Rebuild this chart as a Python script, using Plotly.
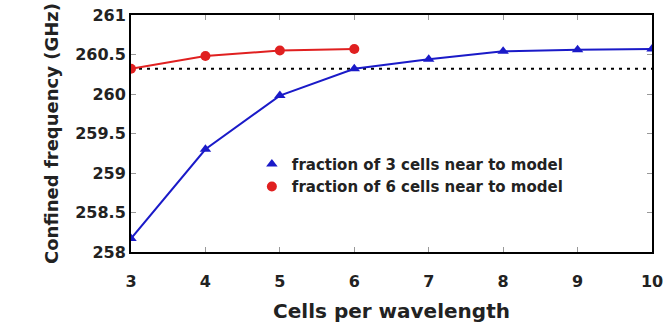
import plotly.graph_objects as go

cells = [3, 4, 5, 6, 7, 8, 9, 10]
freq_3cells = [258.17, 259.3, 259.98, 260.32, 260.44, 260.54, 260.56, 260.57]
cells_6 = [3, 4, 5, 6]
freq_6cells = [260.32, 260.48, 260.55, 260.57]
reference_freq = 260.32
y_ticks = [258, 258.5, 259, 259.5, 260, 260.5, 261]

BLUE = "#1a1ac8"
RED = "#e02020"
FONT = "DejaVu Sans"
TXT = "#222"

L, R, T, B = 131, 15, 15, 72
fig = go.Figure()

# dotted reference level
fig.add_trace(go.Scatter(
    x=[cells[0], cells[-1]], y=[reference_freq, reference_freq], mode="lines",
    line=dict(color="black", width=2, dash="3px,5px"), showlegend=False, hoverinfo="skip"))

fig.add_trace(go.Scatter(
    x=cells, y=freq_3cells, mode="lines+markers", showlegend=False,
    line=dict(color=BLUE, width=2),
    marker=dict(symbol="triangle-up", size=10, color=BLUE)))

fig.add_trace(go.Scatter(
    x=cells_6, y=freq_6cells, mode="lines+markers", showlegend=False,
    line=dict(color=RED, width=2),
    marker=dict(symbol="circle", size=10, color=RED)))

# legend entries show the marker only
fig.add_trace(go.Scatter(
    x=[None], y=[None], mode="markers", name="<b>fraction of 3 cells near to model</b>",
    marker=dict(symbol="triangle-up", size=10, color=BLUE)))
fig.add_trace(go.Scatter(
    x=[None], y=[None], mode="markers", name="<b>fraction of 6 cells near to model</b>",
    marker=dict(symbol="circle", size=10, color=RED)))

axis_common = dict(
    showline=True, linecolor="black", linewidth=2, mirror="ticks",
    ticks="inside", ticklen=5, tickcolor="#999", showgrid=False, zeroline=False,
    automargin=False,
    tickfont=dict(family=FONT, size=16, color=TXT),
)

fig.update_xaxes(range=[3, 10], tickvals=cells, ticktext=[f"<b>{c}</b>" for c in cells],
                 ticklabelstandoff=14,
                 title=dict(text="<b>Cells per wavelength</b>", standoff=14,
                            font=dict(family=FONT, size=20, color=TXT)),
                 **axis_common)
fig.update_yaxes(range=[258, 261], tickvals=y_ticks,
                 ticktext=[f"<b>{v:g}</b>" for v in y_ticks],
                 title=dict(text="<b>Confined frequency (GHz)</b>", standoff=12,
                            font=dict(family=FONT, size=18, color=TXT)),
                 **axis_common)

fig.update_layout(
    width=667, height=324,
    margin=dict(l=L, r=R, t=T, b=B),
    paper_bgcolor="white", plot_bgcolor="white",
    legend=dict(x=0.232, y=0.44, xanchor="left", yanchor="top",
                bgcolor="rgba(0,0,0,0)", borderwidth=0,
                font=dict(family=FONT, size=15, color=TXT),
                tracegroupgap=0),
)

fig.write_html("out.html")
